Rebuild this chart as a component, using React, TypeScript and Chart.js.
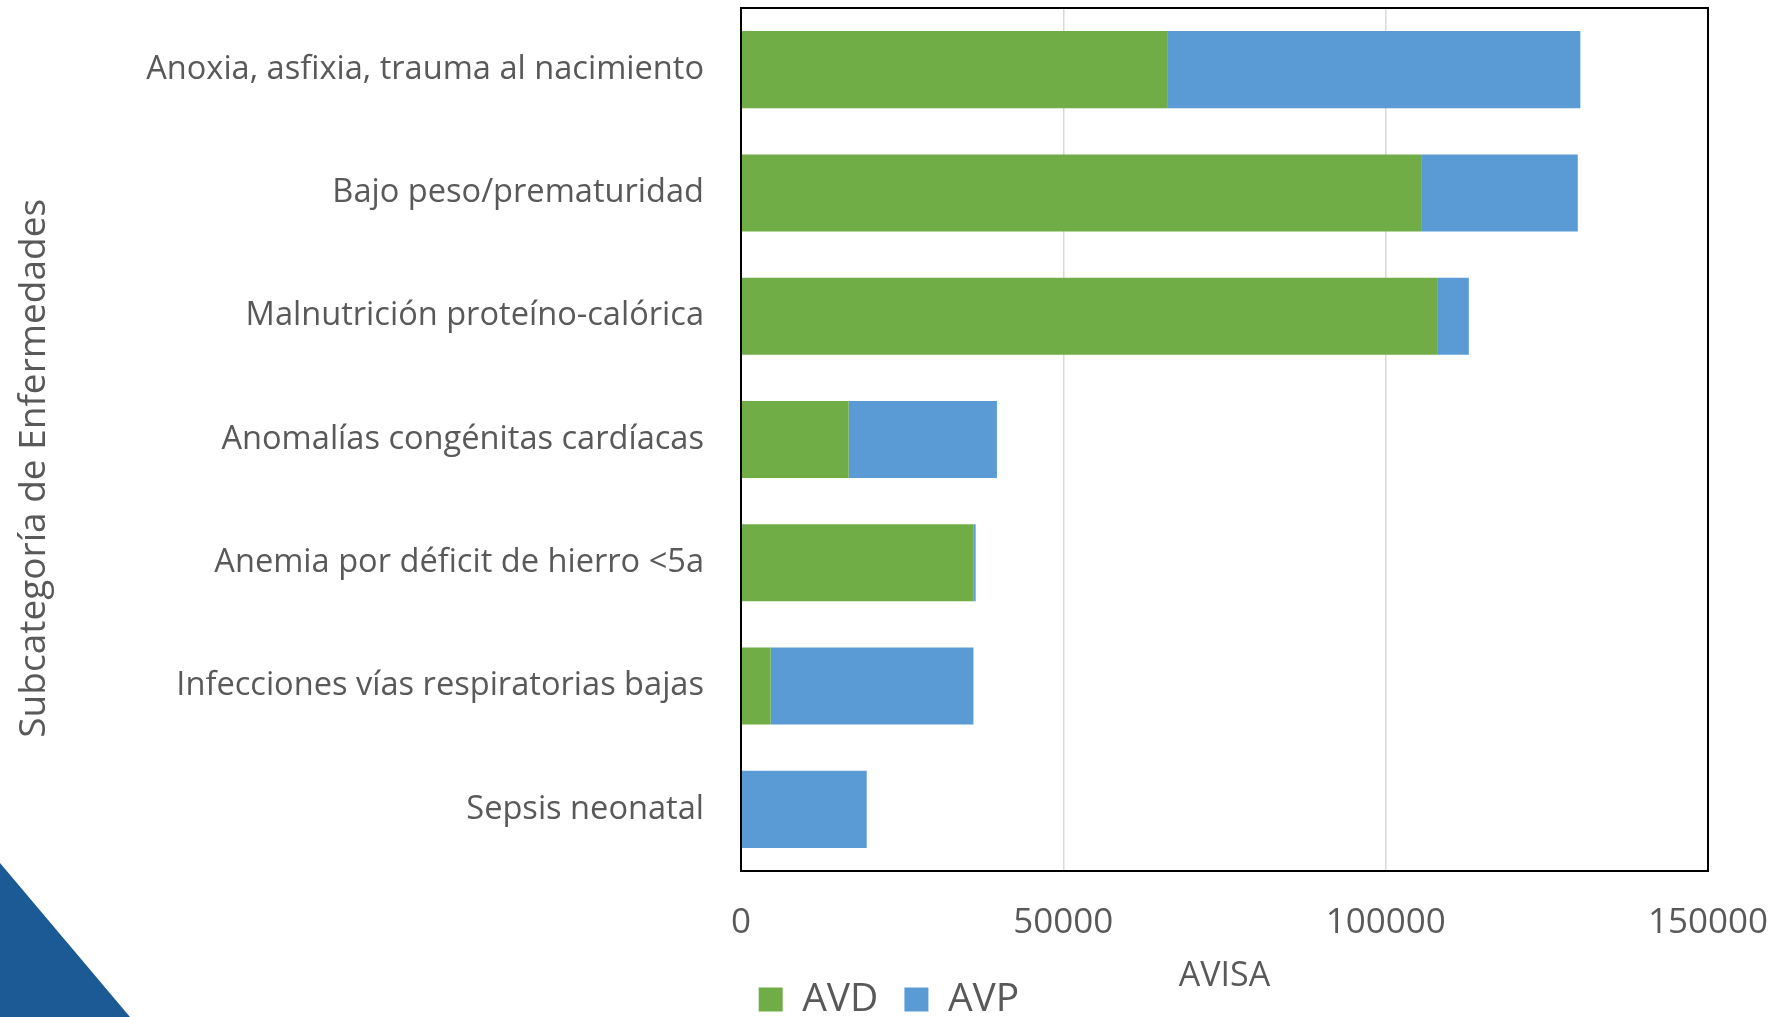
import React, { useEffect, useRef } from "react";
import { Chart, registerables } from "chart.js";

Chart.register(...registerables);

const categories = [
  "Anoxia, asfixia, trauma al nacimiento",
  "Bajo peso/prematuridad",
  "Malnutrición proteíno-calórica",
  "Anomalías congénitas cardíacas",
  "Anemia por déficit de hierro <5a",
  "Infecciones vías respiratorias bajas",
  "Sepsis neonatal",
];
const avdValues = [66100, 105500, 108100, 16700, 36100, 4600, 0];
const avpValues = [64100, 24300, 4800, 23000, 300, 31450, 19500];
const xTickValues = [0, 50000, 100000, 150000];
const seriesNames = ["AVD", "AVP"];
const xAxisTitle = "AVISA";
const yAxisTitle = "Subcategoría de Enfermedades";

const GREEN = "#70AD47";
const BLUE = "#5B9BD5";
const TEXT = "#595959";
const FONT = "'Open Sans', 'DejaVu Sans', sans-serif";

const framePlugin = {
  id: "frame",
  beforeDraw(chart: any) {
    const ctx = chart.ctx;
    ctx.save();
    ctx.fillStyle = "#ffffff";
    ctx.fillRect(0, 0, chart.width, chart.height);
    // decorative corner triangle
    ctx.fillStyle = "#1C5A96";
    ctx.beginPath();
    ctx.moveTo(0, 863);
    ctx.lineTo(130, 1017);
    ctx.lineTo(0, 1017);
    ctx.closePath();
    ctx.fill();
    ctx.restore();
  },
  afterDraw(chart: any) {
    const { left, right, top, bottom } = chart.chartArea;
    const ctx = chart.ctx;
    ctx.save();
    ctx.strokeStyle = "#000000";
    ctx.lineWidth = 2;
    ctx.strokeRect(left, top, right - left, bottom - top);
    ctx.restore();
  },
};

export default function App() {
  const ref = useRef<HTMLCanvasElement | null>(null);

  useEffect(() => {
    if (!ref.current) return;
    const chart = new Chart(ref.current, {
      type: "bar",
      data: {
        labels: categories,
        datasets: [
          {
            label: seriesNames[0],
            data: avdValues,
            backgroundColor: GREEN,
            borderWidth: 0,
            categoryPercentage: 0.625,
            barPercentage: 1,
          },
          {
            label: seriesNames[1],
            data: avpValues,
            backgroundColor: BLUE,
            borderWidth: 0,
            categoryPercentage: 0.625,
            barPercentage: 1,
          },
        ],
      },
      options: {
        indexAxis: "y",
        responsive: false,
        animation: false,
        devicePixelRatio: 1,
        layout: { padding: { top: 8, right: 0, left: 0, bottom: 0 } },
        plugins: {
          legend: {
            position: "bottom",
            align: "center",
            labels: {
              boxWidth: 24,
              boxHeight: 24,
              padding: 26,
              color: TEXT,
              font: { family: FONT, size: 39 },
            },
          },
          tooltip: { enabled: false },
        },
        scales: {
          x: {
            stacked: true,
            min: 0,
            max: 150000,
            afterBuildTicks: (axis: any) => {
              axis.ticks = xTickValues.map((v) => ({ value: v }));
            },
            afterFit: (axis: any) => {
              axis.height = 83;
              axis.paddingLeft = 0;
              axis.paddingRight = 70;
            },
            ticks: {
              autoSkip: false,
              maxRotation: 0,
              padding: 31,
              color: TEXT,
              font: { family: FONT, size: 35 },
              callback: (v: any) => String(v),
            },
            grid: { color: "#D9D9D9", lineWidth: 1.5, drawTicks: false },
            border: { display: false },
            title: {
              display: true,
              text: xAxisTitle,
              color: TEXT,
              font: { family: FONT, size: 34 },
              padding: { top: 0, bottom: -43 },
            },
          },
          y: {
            stacked: true,
            afterFit: (axis: any) => {
              axis.width = 741;
              axis.paddingTop = 0;
              axis.paddingBottom = 0;
            },
            ticks: {
              padding: 37,
              color: TEXT,
              font: { family: FONT, size: 32.6 },
            },
            grid: { display: false, drawTicks: false },
            border: { display: false },
            title: {
              display: true,
              text: yAxisTitle + "      ",
              color: TEXT,
              font: { family: FONT, size: 37 },
              padding: { top: 12, bottom: 0 },
            },
          },
        },
      },
      plugins: [framePlugin],
    } as any);
    return () => chart.destroy();
  }, []);

  return (
    <div
      style={{
        position: "fixed",
        left: 0,
        top: 0,
        width: 1778,
        height: 1017,
        overflow: "hidden",
        background: "#ffffff",
      }}
    >
      <canvas ref={ref} width={1778} height={1029} style={{ display: "block" }} />
    </div>
  );
}
